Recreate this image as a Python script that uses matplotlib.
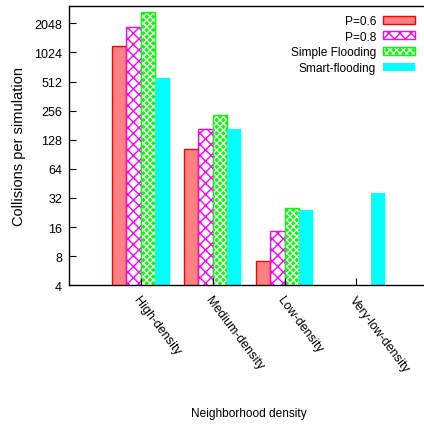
import numpy as np
import matplotlib
matplotlib.use("Agg")
import matplotlib.pyplot as plt
from matplotlib.patches import Patch
from matplotlib.legend_handler import HandlerTuple
from matplotlib.ticker import FixedLocator, FixedFormatter, NullLocator

plt.rcParams['font.family'] = ['Liberation Sans', 'DejaVu Sans']
plt.rcParams['hatch.color'] = 'white'
plt.rcParams['hatch.linewidth'] = 1.0
FS = 8.6

categories = ["High-density", "Medium-density", "Low-density", "Very-low-density"]
series_names = ["P=0.6", "P=0.8", "Simple Flooding", "Smart-flooding"]
p06 = [1190, 102, 7.2, np.nan]
p08 = [1870, 165, 14.5, np.nan]
simple_flooding = [2700, 233, 25, np.nan]
smart_flooding = [555, 166, 24, 36]
yticks = [4, 8, 16, 32, 64, 128, 256, 512, 1024, 2048]

W, H = 424, 427
fig = plt.figure(figsize=(W / 100, H / 100), dpi=100)
left, right, top, bottom = 69, 428.3, 7, 286.3
ax = fig.add_axes([left / W, 1 - bottom / H, (right - left) / W, (bottom - top) / H])

x = np.arange(len(categories))
bw = 0.2
offs = [-1.5, -0.5, 0.5, 1.5]

ax.bar(x + offs[0] * bw, p06, bw, facecolor='#ff8080', edgecolor='#ff0000', linewidth=1.0)
ax.bar(x + offs[1] * bw, p08, bw, facecolor='white', edgecolor='#ff00ff', hatch='xxx', linewidth=1.0)
ax.bar(x + offs[2] * bw, simple_flooding, bw, facecolor='#00ff00', linewidth=0, hatch='xxxxx')
ax.bar(x + offs[2] * bw, simple_flooding, bw, fill=False, edgecolor='#00ff00', linewidth=1.0)
ax.bar(x + offs[3] * bw, smart_flooding, bw, facecolor='#00ffff', edgecolor='none', linewidth=0)

ax.set_yscale('log', base=2)
ytop = 4 * 2 ** ((bottom - top) / 29.11)
ax.set_ylim(4, ytop)
ax.set_xlim(-1, 4)
ax.yaxis.set_major_locator(FixedLocator(yticks))
ax.yaxis.set_major_formatter(FixedFormatter([str(v) for v in yticks]))
ax.yaxis.set_minor_locator(NullLocator())
ax.set_xticks(x)
ax.set_xticklabels(categories, rotation=-53, ha='left', va='top', rotation_mode='anchor')
ax.tick_params(axis='both', direction='in', length=5, width=0.8, labelsize=9, color='black')
ax.tick_params(axis='y', pad=5)
ax.tick_params(axis='x', pad=6)
for s in ax.spines.values():
    s.set_linewidth(1.0)

ax.set_ylabel("Collisions per simulation", fontsize=10.5, labelpad=6)
ax.set_xlabel("Neighborhood density", fontsize=FS, labelpad=24)

h1 = Patch(facecolor='#ff8080', edgecolor='#ff0000', linewidth=1.0)
h2 = Patch(facecolor='white', edgecolor='#ff00ff', hatch='xxx', linewidth=1.0)
h3a = Patch(facecolor='#00ff00', linewidth=0, hatch='xxxxx')
h3b = Patch(fill=False, edgecolor='#00ff00', linewidth=1.0)
h4 = Patch(facecolor='#00ffff', edgecolor='none', linewidth=0)
ax.legend([h1, h2, (h3a, h3b), h4], series_names,
          handler_map={tuple: HandlerTuple(ndivide=1)},
          loc='upper right', bbox_to_anchor=(415 / W, 1 - 16 / H),
          bbox_transform=fig.transFigure, frameon=False, markerfirst=False,
          fontsize=FS, handlelength=2.7, handleheight=0.65, handletextpad=0.55,
          labelspacing=0.3, borderpad=0, borderaxespad=0)

fig.savefig("out.png", dpi=100)
